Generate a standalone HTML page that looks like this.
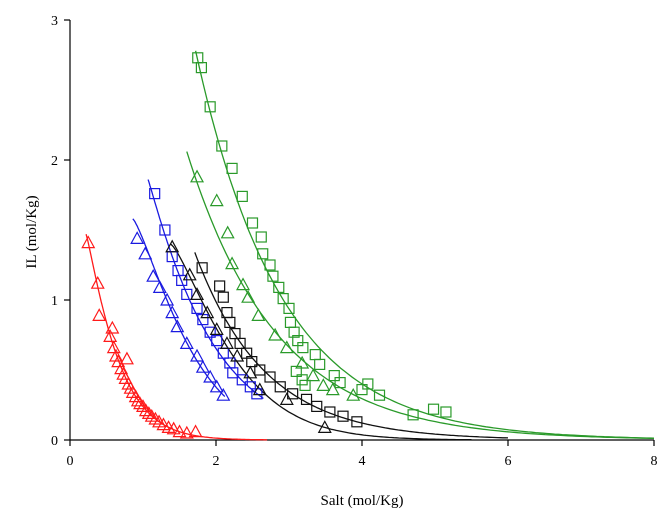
<!DOCTYPE html>
<html><head><meta charset="utf-8"><style>
body{margin:0;background:#fff;}
svg{display:block;font-family:"Liberation Serif",serif;}
</style></head><body>
<svg id="chart" width="670" height="518" viewBox="0 0 670 518">
<g id="axes"></g><g id="curves"></g><g id="marks"></g>
<text x="362" y="505" font-size="15" text-anchor="middle">Salt (mol/Kg)</text>
<text x="0" y="0" font-size="15" text-anchor="middle" transform="translate(36,232) rotate(-90)">IL (mol/Kg)</text>
</svg>
<script>
const xTicks=[0,2,4,6,8];
const yTicks=[0,1,2,3];
const seriesNames=['red-tri','blue-tri','blue-sq','black-tri','black-sq','green-tri','green-sq'];
const seriesColors=['#ff1a1a','#1a1ae0','#1a1ae0','#111111','#111111','#2a9a2a','#2a9a2a'];
const seriesShapes=['tri','tri','sq','tri','sq','tri','sq'];
const redX=[0.25,0.38,0.4,0.55,0.58,0.6,0.63,0.66,0.7,0.73,0.76,0.78,0.8,0.83,0.86,0.9,0.93,0.96,1.0,1.04,1.08,1.12,1.17,1.22,1.28,1.35,1.42,1.5,1.6,1.72];
const redY=[1.41,1.12,0.89,0.74,0.8,0.66,0.6,0.56,0.51,0.47,0.44,0.58,0.4,0.37,0.34,0.31,0.28,0.26,0.24,0.21,0.19,0.17,0.15,0.13,0.11,0.09,0.08,0.06,0.05,0.06];
const blueTriX=[0.92,1.03,1.14,1.23,1.33,1.4,1.47,1.6,1.74,1.82,1.92,2.01,2.1];
const blueTriY=[1.44,1.33,1.17,1.09,1.0,0.91,0.81,0.69,0.6,0.52,0.45,0.38,0.32];
const blueSqX=[1.16,1.3,1.4,1.48,1.53,1.6,1.74,1.82,1.92,2.01,2.1,2.19,2.23,2.36,2.47,2.56];
const blueSqY=[1.76,1.5,1.31,1.21,1.14,1.04,0.94,0.86,0.77,0.71,0.62,0.55,0.48,0.43,0.38,0.33];
const blackTriX=[1.4,1.64,1.74,1.88,2.01,2.15,2.29,2.47,2.6,2.97,3.49];
const blackTriY=[1.38,1.18,1.04,0.91,0.79,0.69,0.6,0.48,0.36,0.29,0.09];
const blackSqX=[1.81,2.05,2.1,2.15,2.19,2.26,2.33,2.42,2.49,2.6,2.74,2.88,3.05,3.24,3.38,3.56,3.74,3.93];
const blackSqY=[1.23,1.1,1.02,0.91,0.84,0.76,0.69,0.62,0.56,0.5,0.45,0.38,0.33,0.29,0.24,0.2,0.17,0.13];
const greenTriX=[1.74,2.01,2.16,2.22,2.37,2.44,2.58,2.81,2.97,3.18,3.33,3.47,3.6,3.88];
const greenTriY=[1.88,1.71,1.48,1.26,1.11,1.02,0.89,0.75,0.66,0.55,0.46,0.39,0.36,0.32];
const greenSqX=[1.75,1.8,1.92,2.08,2.22,2.36,2.5,2.62,2.64,2.74,2.78,2.86,2.92,3.0,3.02,3.07,3.12,3.19,3.1,3.18,3.22,3.36,3.42,3.62,3.7,4.0,4.08,4.24,4.7,4.98,5.15];
const greenSqY=[2.73,2.66,2.38,2.1,1.94,1.74,1.55,1.45,1.33,1.25,1.17,1.09,1.01,0.94,0.84,0.77,0.71,0.66,0.49,0.43,0.39,0.61,0.54,0.46,0.41,0.36,0.4,0.32,0.18,0.22,0.2];
// fit curves: y = y0*exp(-b*(x-x0)^p)
const fitX0=[0.22,0.86,1.07,1.38,1.71,1.6,1.72];
const fitY0=[1.47,1.58,1.86,1.40,1.34,2.06,2.78];
const fitB=[2.42,1.21,1.13,1.04,1.05,0.81,0.85];
const fitP=[1.15,1.28,1.06,1.3,1.0,1.0,1.0];
const fitXEnd=[2.7,2.12,2.65,5.5,6.0,8,8];
const seriesX=[redX,blueTriX,blueSqX,blackTriX,blackSqX,greenTriX,greenSqX];
const seriesY=[redY,blueTriY,blueSqY,blackTriY,blackSqY,greenTriY,greenSqY];

const NS='http://www.w3.org/2000/svg';
const X0=70,X1=654,Y0=440,Y1=20;
const sx=v=>X0+(v-0)/(8-0)*(X1-X0);
const sy=v=>Y0-(v-0)/(3-0)*(Y0-Y1);
function mk(tag,attrs,parent){const e=document.createElementNS(NS,tag);for(const k in attrs)e.setAttribute(k,attrs[k]);parent.appendChild(e);return e;}
const axes=document.getElementById('axes');
let e=mk('line',{x1:X0,y1:Y1,x2:X0,y2:Y0,stroke:'#000','stroke-width':1.2},axes);


e=mk('line',{x1:X0,y1:Y0,x2:X1,y2:Y0,stroke:'#000','stroke-width':1.2},axes);


xTicks.forEach(t=>{
 mk('line',{x1:sx(t),y1:Y0,x2:sx(t),y2:Y0+6,stroke:'#000','stroke-width':1.2},axes);
 const tx=mk('text',{x:sx(t),y:Y0+25,'font-size':14,'text-anchor':'middle'},axes);tx.textContent=t;
 
 
});
yTicks.forEach(t=>{
 mk('line',{x1:X0-6,y1:sy(t),x2:X0,y2:sy(t),stroke:'#000','stroke-width':1.2},axes);
 const tx=mk('text',{x:X0-12,y:sy(t)+5,'font-size':14,'text-anchor':'end'},axes);tx.textContent=t;
 
 
});
const curves=document.getElementById('curves'),marks=document.getElementById('marks');
seriesNames.forEach((nm,i)=>{
 let d='';const n=120;
 for(let k=0;k<=n;k++){const x=fitX0[i]+(fitXEnd[i]-fitX0[i])*k/n;const y=fitY0[i]*Math.exp(-fitB[i]*Math.pow(x-fitX0[i],fitP[i]));d+=(k?'L':'M')+sx(x).toFixed(1)+','+sy(y).toFixed(1);}
 const p=mk('path',{d:d,fill:'none',stroke:seriesColors[i],'stroke-width':1.3},curves);
 
 
 const g=mk('g',{},marks);
 
 
 seriesX[i].forEach((x,j)=>{
  const cx=sx(x),cy=sy(seriesY[i][j]);let m;
  if(seriesShapes[i]==='sq') m=mk('rect',{x:cx-5,y:cy-5,width:10,height:10,fill:'none',stroke:seriesColors[i],'stroke-width':1.2},g);
  else m=mk('polygon',{points:`${cx},${cy-6} ${cx-6},${cy+5} ${cx+6},${cy+5}`,fill:'none',stroke:seriesColors[i],'stroke-width':1.2},g);
  
  
 });
});
</script>
</body></html>
